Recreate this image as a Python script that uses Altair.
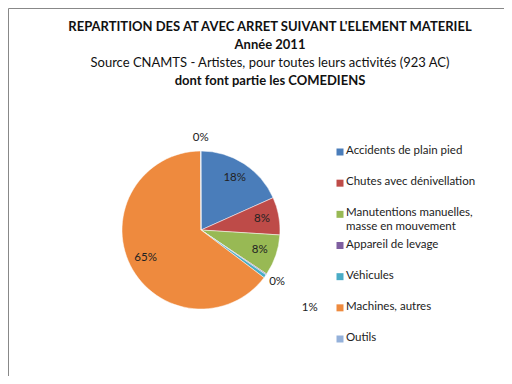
import altair as alt
import pandas as pd

categories = [
    "Accidents de plain pied",
    "Chutes avec dénivellation",
    "Manutentions manuelles,\nmasse en mouvement",
    "Appareil de levage",
    "Véhicules",
    "Machines, autres",
    "Outils",
]
values = [18.3, 7.7, 8.4, 0.2, 0.7, 64.6, 0.1]
labels = ["18%", "8%", "8%", "0%", "1%", "65%", "0%"]
colors = ["#4A7DBA", "#BE4B48", "#98B954", "#7F5FA0", "#4AACC6", "#EE8A3E", "#94B1DA"]

title_lines = [
    "REPARTITION DES AT AVEC ARRET SUIVANT L'ELEMENT MATERIEL",
    "Année 2011",
    "Source CNAMTS - Artistes, pour toutes leurs activités (923  AC)",
    "dont font partie les COMEDIENS",
]

df = pd.DataFrame({
    "cat": categories,
    "v": values,
    "lab": labels,
    "idx": list(range(len(categories))),
})

FONT = "Lato"
cx, cy = 193, 222

color = alt.Color("cat:N", scale=alt.Scale(domain=categories, range=colors), legend=None)
order = alt.Order("idx:Q", sort="ascending")

base = alt.Chart(df)

pie = base.mark_arc(outerRadius=79, stroke="white", strokeWidth=0.5).encode(
    theta=alt.Theta("v:Q", stack=True), color=color, order=order,
    x=alt.value(cx), y=alt.value(cy),
)

pie_labels = base.transform_joinaggregate(
    total="sum(v)"
).transform_window(
    cum="sum(v)", sort=[alt.SortField("idx", order="ascending")], frame=[None, 0]
).transform_calculate(
    mid="(datum.cum - datum.v / 2) / datum.total * 2 * PI",
    r="datum.v > 5 ? 62 : (datum.idx == 4 ? 134 : 92)",
).mark_text(font=FONT, fontSize=11.5, color="#222").encode(
    theta=alt.Theta("mid:Q", scale=None, stack=None),
    radius=alt.Radius("r:Q", scale=None),
    text="lab:N",
    x=alt.value(cx), y=alt.value(cy),
)

leg_y = alt.Y("cat:N", scale=alt.Scale(domain=categories, range=[144, 331], padding=0), axis=None)

leg_sym = base.mark_square(size=49, opacity=1).encode(
    x=alt.value(332), y=leg_y, color=color,
)
leg_txt = base.mark_text(
    font=FONT, fontSize=11.5, align="left", baseline="top", dy=-7,
    lineBreak="\n", lineHeight=14, color="#222",
).encode(
    x=alt.value(338), y=leg_y, text="cat:N",
)

tdf = pd.DataFrame({"t": title_lines, "i": [0, 1, 2, 3]})
tb = alt.Chart(tdf)
t1 = tb.transform_filter("datum.i == 0").mark_text(font=FONT, fontSize=13, fontWeight="bold", color="#111").encode(
    text="t:N", x=alt.value(262), y=alt.value(19))
t2 = tb.transform_filter("datum.i == 1").mark_text(font=FONT, fontSize=13, fontWeight="bold", color="#111").encode(
    text="t:N", x=alt.value(262), y=alt.value(37))
t3 = tb.transform_filter("datum.i == 2").mark_text(font=FONT, fontSize=13, color="#111").encode(
    text="t:N", x=alt.value(262), y=alt.value(55))
t4 = tb.transform_filter("datum.i == 3").mark_text(font=FONT, fontSize=13, fontWeight="bold", color="#111").encode(
    text="t:N", x=alt.value(262), y=alt.value(73))

chart = alt.layer(pie, pie_labels, leg_sym, leg_txt, t1, t2, t3, t4).properties(
    width=496, height=368, autosize=alt.AutoSizeParams(type="none"), padding=0,
).configure_view(stroke="#888", strokeWidth=1)

chart.save("out.html", embed_options={"renderer": "svg", "actions": False})
